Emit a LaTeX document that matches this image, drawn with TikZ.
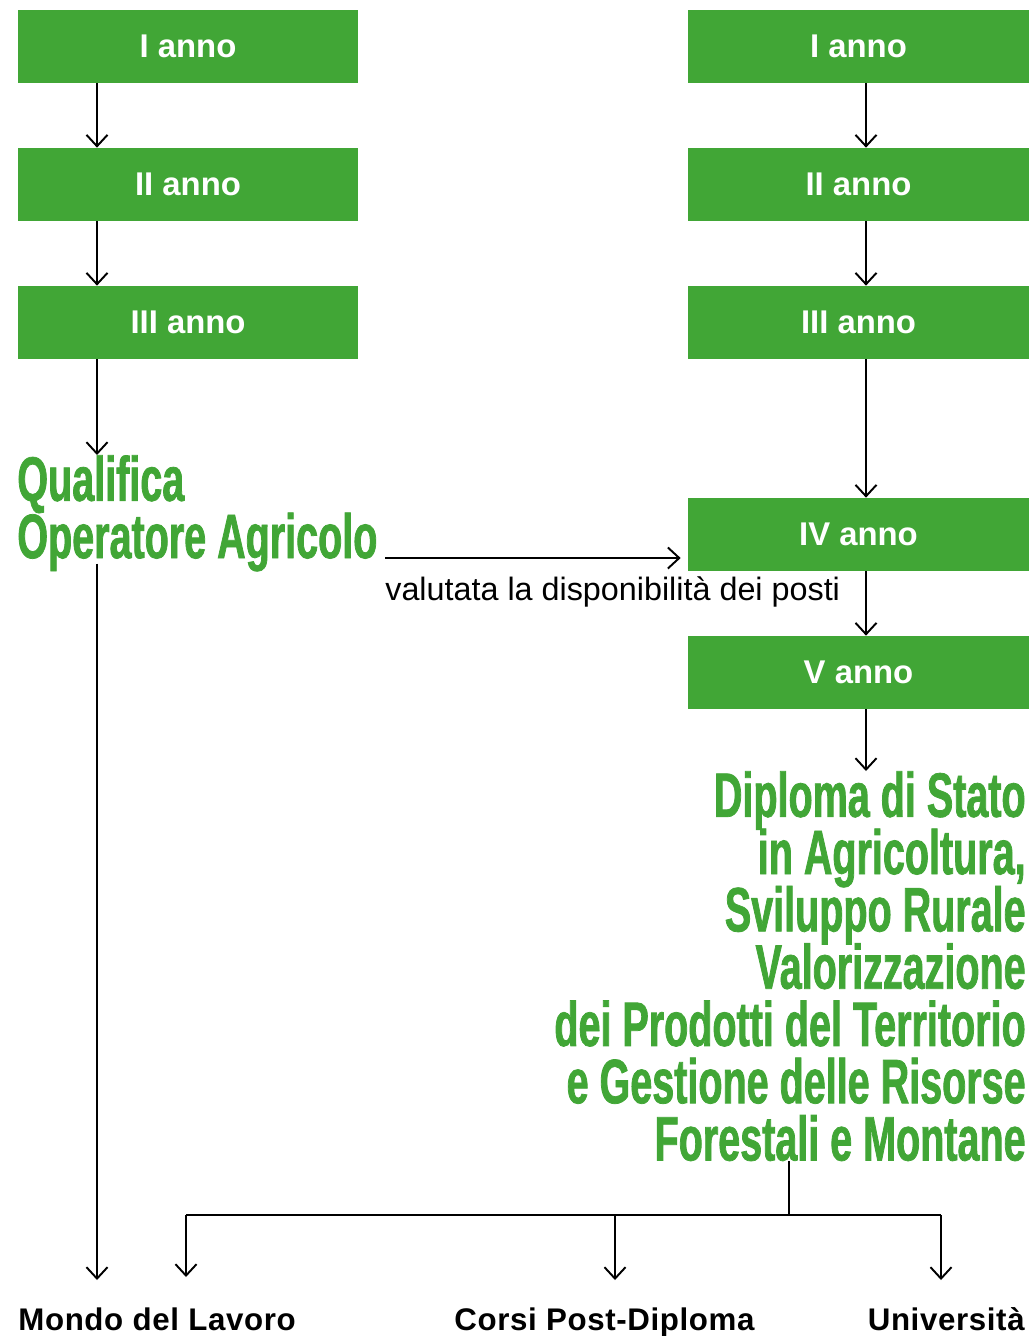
\documentclass[tikz,border=0pt]{standalone}
\usepackage{fontspec}
\setmainfont{Liberation Sans}
\newfontfamily\condensed[FakeStretch=0.63, FakeBold=1.2]{Liberation Sans}
\newfontfamily\spaziato[LetterSpace=2]{Liberation Sans}
\usetikzlibrary{arrows.meta}

\definecolor{verdeagri}{RGB}{65,166,54}
\newcommand\stretto{\lineskiplimit-20pt\relax}

\tikzset{
  anno/.style={fill=verdeagri, text=white, font=\bfseries\fontsize{18.7}{20}\selectfont,
    minimum width=6.82cm, minimum height=1.46cm, inner sep=0pt},
  esito/.style={text=verdeagri, inner sep=0pt,
    font=\condensed\bfseries\fontsize{35.7}{32.6}\selectfont\stretto},
  uscita/.style={font=\spaziato\bfseries\fontsize{17.8}{20}\selectfont, inner sep=0pt},
  freccia/.style={-{Straight Barb[length=6.5pt,width=12pt]}, line width=1.1pt},
  linea/.style={line width=1.1pt},
}

\begin{document}
\begin{tikzpicture}[x=0.02cm, y=-0.02cm]

    % Page area
    \useasboundingbox (0,0) rectangle (1031,1336);

    % Columns of the arrows
    \coordinate (colL) at (97,0);
    \coordinate (colR) at (866,0);

    % Three-year course
    \node[anno] (l1) at (188,46.5)  {I anno};
    \node[anno] (l2) at (188,184.5) {II anno};
    \node[anno] (l3) at (188,322.5) {III anno};

    % Five-year course
    \node[anno] (r1) at (858.5,46.5)  {I anno};
    \node[anno] (r2) at (858.5,184.5) {II anno};
    \node[anno] (r3) at (858.5,322.5) {III anno};
    \node[anno] (r4) at (858.5,534.5) {IV anno};
    \node[anno] (r5) at (858.5,672.5) {V anno};

    % Titles
    \node[esito, anchor=north west, align=left] (qual) at (17,455)
      {Qualifica\\Operatore Agricolo};
    \node[esito, anchor=north east, align=right] (dipl) at (1026,771)
      {Diploma di Stato\\in Agricoltura,\\Sviluppo Rurale\\Valorizzazione\\dei Prodotti del Territorio\\e Gestione delle Risorse\\Forestali e Montane};

    % Outlets
    \node[uscita, anchor=base west] (mondo) at (18,1330)  {Mondo del Lavoro};
    \node[uscita, anchor=base west] (corsi) at (454,1330) {Corsi Post-Diploma};
    \node[uscita, anchor=base east] (univ)  at (1025,1330) {Università};

    % Vertical arrows
    \foreach \a/\b in {l1/l2, l2/l3, l3/qual}
      \draw[freccia] (\a.south -| colL) -- (\b.north -| colL);
    \foreach \a/\b in {r1/r2, r2/r3, r3/r4, r4/r5, r5/dipl}
      \draw[freccia] (\a.south -| colR) -- (\b.north -| colR);
    \draw[freccia, shorten <=-0.16cm, shorten >=0.54cm] (qual.south -| colL) -- (mondo.north -| colL);

    % Passage to the IV year
    \coordinate (soglia) at (385,558);
    \draw[freccia, shorten >=0.14cm] (soglia) -- (soglia -| r4.west);
    \node[anchor=base west, inner sep=0pt, font=\fontsize{18.4}{20}\selectfont] (nota) at (385,600)
      {valutata la disponibilità dei posti};

    % Branches after the diploma
    \coordinate (bivio) at (789,1215);
    \coordinate (ramoL) at (186,1277);
    \coordinate (ramoC) at (615,1280);
    \coordinate (ramoR) at (941,1280);
    \draw[linea] (dipl.south -| bivio) -- (bivio);
    \draw[linea] (ramoL |- bivio) -- (ramoR |- bivio);
    \foreach \r in {ramoL, ramoC, ramoR}
      \draw[freccia] (\r |- bivio) -- (\r);

\end{tikzpicture}
\end{document}
